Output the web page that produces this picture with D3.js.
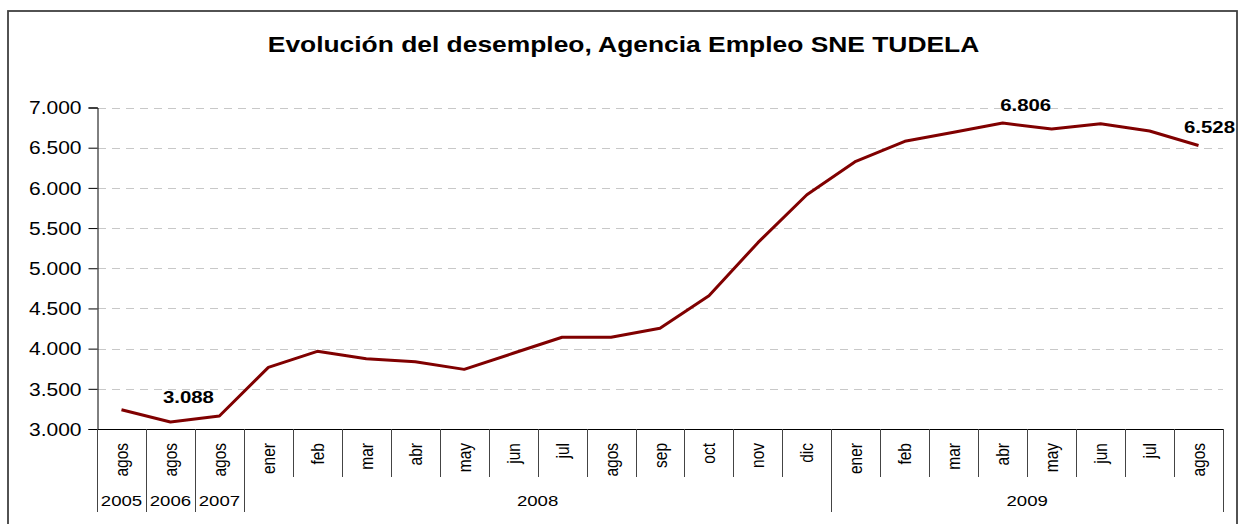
<!DOCTYPE html>
<html><head><meta charset="utf-8">
<script src="https://cdn.jsdelivr.net/npm/d3@7"></script>
<style>body{margin:0;background:#fff}svg{display:block}text{font-family:"Liberation Sans",Arial,sans-serif}</style>
</head><body><svg id="c" width="1238" height="524"></svg>
<script>
const title = "Evolución del desempleo, Agencia Empleo SNE TUDELA";
const months = ["agos","agos","agos","ener","feb","mar","abr","may","jun","jul","agos","sep","oct","nov","dic","ener","feb","mar","abr","may","jun","jul","agos"];
const values = [3240,3088,3162,3767,3966,3875,3837,3742,3942,4141,4141,4253,4659,5318,5915,6330,6579,6691,6806,6733,6799,6708,6528];
const years = ["2005","2006","2007","2008","2009"];
const yearSpans = [1,1,1,12,8];
const yTicks = [3000,3500,4000,4500,5000,5500,6000,6500,7000];
const labelIdx = [1,18,22];
const labelText = ["3.088","6.806","6.528"];

const SX = 1.2;
const svg = d3.select("#c");
const L = 97, R = 1223, T = 107.5, B = 429;
const x = d3.scaleBand().domain(d3.range(months.length)).range([L, R]).padding(0);
const y = d3.scaleLinear().domain([3000, 7000]).range([B, T]);
const fmt = d3.formatLocale({thousands: ".", decimal: ",", grouping: [3], currency: ["", ""]}).format(",.0f");

// outer border
svg.append("rect").attr("x", 8).attr("y", 11).attr("width", 1229).attr("height", 530)
  .attr("fill", "#fff").attr("stroke", "#404040").attr("stroke-width", 1.8);

// title
svg.append("text").attr("transform", `translate(623.5,52) scale(${SX},1)`)
  .attr("text-anchor", "middle").attr("font-size", 22).attr("font-weight", "bold").attr("fill", "#000").text(title);

// gridlines
svg.append("g").selectAll("line").data(yTicks.filter(d => d > 3000)).join("line")
  .attr("x1", L + 1).attr("x2", R).attr("y1", d => Math.round(y(d)) + 0.5).attr("y2", d => Math.round(y(d)) + 0.5)
  .attr("stroke", "#c8c8c8").attr("stroke-width", 1).attr("stroke-dasharray", "8,6");

// y axis
const ya = svg.append("g").attr("transform", `translate(${L + 0.5},0)`)
  .call(d3.axisLeft(y).tickValues(yTicks).tickSize(9).tickPadding(7).tickFormat(fmt));
ya.select(".domain").attr("stroke", "#000");
ya.selectAll(".tick line").attr("stroke", "#000");
ya.selectAll(".tick text").attr("font-size", 17.5).attr("fill", "#000")
  .attr("font-family", "Liberation Sans, Arial, sans-serif")
  .attr("transform", `scale(${SX},1)`).attr("x", -16 / SX).attr("dy", "0.36em");

// x axis baseline
svg.append("line").attr("x1", L).attr("x2", R).attr("y1", B + 0.5).attr("y2", B + 0.5).attr("stroke", "#000").attr("stroke-width", 1.2);

// separators
const yearStarts = [];
let acc = 0; yearSpans.forEach(s => { yearStarts.push(acc); acc += s; });
const boundaries = d3.range(months.length + 1);
svg.append("g").selectAll("line").data(boundaries).join("line")
  .attr("x1", i => Math.round(L + i * x.bandwidth()) + 0.5).attr("x2", i => Math.round(L + i * x.bandwidth()) + 0.5)
  .attr("y1", B).attr("y2", i => (yearStarts.includes(i) || i === months.length) ? 512 : 477)
  .attr("stroke", "#444").attr("stroke-width", 1);

// month labels
svg.append("g").selectAll("text").data(months).join("text")
  .attr("transform", (d, i) => `translate(${x(i) + x.bandwidth() / 2},443) scale(${SX},1) rotate(-90)`)
  .attr("text-anchor", "end").attr("dy", "0.35em").attr("font-size", 15.5).attr("fill", "#000").text(d => d);

// year labels
svg.append("g").selectAll("text").data(years).join("text")
  .attr("transform", (d, i) => `translate(${L + (yearStarts[i] + yearSpans[i] / 2) * x.bandwidth()},506) scale(${SX},1)`)
  .attr("text-anchor", "middle").attr("font-size", 15.5).attr("fill", "#000").text(d => d);

// line
const line = d3.line().x((d, i) => x(i) + x.bandwidth() / 2).y(d => y(d));
svg.append("path").datum(values).attr("d", line).attr("fill", "none")
  .attr("stroke", "#800000").attr("stroke-width", 3).attr("stroke-linejoin", "round");

// data labels
const offs = [[18, -19], [23, -12], [11, -12]];
svg.append("g").selectAll("text").data(labelIdx).join("text")
  .attr("transform", (d, k) => `translate(${x(d) + x.bandwidth() / 2 + offs[k][0]},${y(values[d]) + offs[k][1]}) scale(${SX},1)`)
  .attr("text-anchor", "middle").attr("font-size", 17).attr("font-weight", "bold").attr("fill", "#000")
  .text((d, k) => labelText[k]);
</script></body></html>
